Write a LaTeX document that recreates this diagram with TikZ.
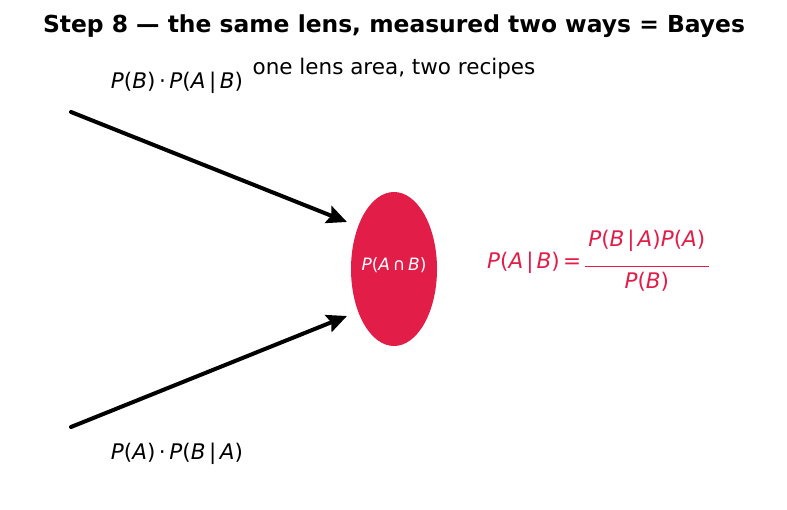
\documentclass[tikz,border=0pt]{standalone}
\usepackage{fontspec}
\setmainfont{DejaVu Sans}
\usetikzlibrary{shapes.geometric,arrows.meta}
\definecolor{lens}{HTML}{E11D48}
\newcommand{\mi}[1]{\textit{#1}}
\begin{document}
\begin{tikzpicture}[x=1pt,y=-1pt,
  lbl/.style={inner sep=0pt,font=\fontsize{21.5}{24}\selectfont},
  arr/.style={line width=4pt,line cap=round,-{Stealth[length=20pt,width=18pt,inset=3pt]}}]
\useasboundingbox (0,0) rectangle (787,510);
\node[inner sep=0pt,font=\fontsize{23.4}{26}\selectfont\bfseries] (title) at (394,26) {Step 8 — the same lens, measured two ways = Bayes};
\node[lbl] (sub) at (394,69) {one lens area, two recipes};
\node[ellipse,fill=lens,minimum width=86pt,minimum height=154pt,inner sep=0pt] (lensn) at (394,269) {};
\node[inner sep=0pt,text=white,font=\fontsize{17}{19}\selectfont] (lt) at (394,265) {\mi{P}(\mi{A}\,∩\,\mi{B})};
\node[lbl] (top) at (177,83) {\mi{P}(\mi{B})\,·\,\mi{P}(\mi{A}\,|\,\mi{B})};
\node[lbl] (bot) at (177,454) {\mi{P}(\mi{A})\,·\,\mi{P}(\mi{B}\,|\,\mi{A})};
\coordinate (s1) at (71,112);
\coordinate (s2) at (71,427);
\coordinate (e1) at (347,222);
\coordinate (e2) at (347,316);
\draw[arr] (s1) -- (e1);
\draw[arr] (s2) -- (e2);
\node[lbl,text=lens,anchor=west] (bayes) at (487,263) {\mi{P}(\mi{A}\kern3pt|\kern3pt\mi{B})\,=\,$\vcenter{\hbox{\begin{tabular}{@{}c@{}}\mi{P}(\mi{B}\kern3pt|\kern3pt\mi{A})\mi{P}(\mi{A})\\[-4pt]\rule{124pt}{0.8pt}\\[-2pt]\mi{P}(\mi{B})\end{tabular}}}$};
\end{tikzpicture}
\end{document}
